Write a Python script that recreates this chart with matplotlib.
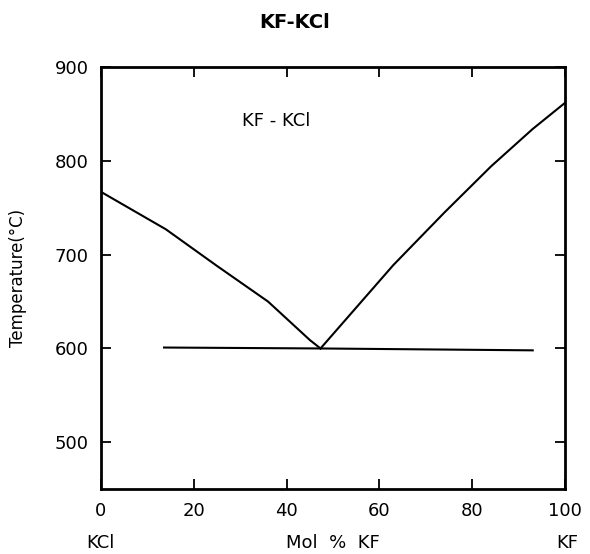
import matplotlib.pyplot as plt

# liquidus (mol % KF, temperature in C)
kcl_side_x = [0, 14, 25, 36, 45, 47.3]
kcl_side_t = [767, 727, 688, 650, 609, 600]
kf_side_x = [47.3, 63, 74, 84, 93, 100]
kf_side_t = [600, 689, 745, 794, 834, 862]
eutectic_x = [13.6, 47.3, 93]
eutectic_t = [601, 600, 598]

x_ticks = [0, 20, 40, 60, 80, 100]
x_labels = ["0", "20", "40", "60", "80", "100"]
y_ticks = [500, 600, 700, 800, 900]

fig = plt.figure(figsize=(5.9, 5.54), dpi=100)
ax = fig.add_axes([0.171, 0.117, 0.787, 0.762])

ax.plot(kcl_side_x, kcl_side_t, color="black", lw=1.5)
ax.plot(kf_side_x, kf_side_t, color="black", lw=1.5)
ax.plot(eutectic_x, eutectic_t, color="black", lw=1.5)

ax.set_xlim(0, 100)
ax.set_ylim(450, 900)
ax.set_xticks(x_ticks)
ax.set_xticklabels(x_labels)
ax.set_yticks(y_ticks)
ax.tick_params(direction="in", top=True, right=True, length=7, width=1.3,
               labelsize=13, pad=9)
for s in ax.spines.values():
    s.set_linewidth(2)

ax.set_ylabel("Temperature(°C)", fontsize=12, labelpad=20)
ax.text(30.4, 843, "KF - KCl", fontsize=13, va="center", ha="left")

fig.text(0.5, 1 - 22 / 554, "KF-KCl", fontsize=14, fontweight="bold", ha="center", va="center")
fig.text(100 / 590, 1 - 543 / 554, "KCl", fontsize=13, ha="center", va="center")
fig.text(333 / 590, 1 - 543 / 554, "Mol  %  KF", fontsize=13, ha="center", va="center")
fig.text(567 / 590, 1 - 543 / 554, "KF", fontsize=13, ha="center", va="center")

fig.savefig("out.png", dpi=100)
